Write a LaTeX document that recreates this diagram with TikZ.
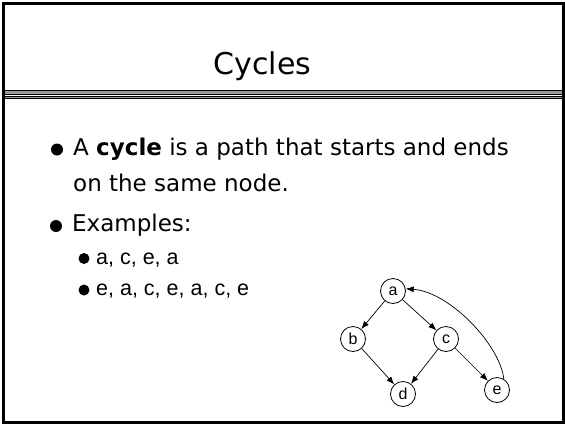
\documentclass[tikz,border=0pt]{standalone}
\usepackage{fontspec}
\setmainfont{DejaVu Sans}
\newfontfamily\arialf{Liberation Sans}
\usetikzlibrary{arrows.meta}
\begin{document}
\begin{tikzpicture}[x=1pt,y=-1pt,
  vtx/.style={circle,draw,line width=0.8pt,minimum size=25pt,inner sep=0pt,font=\arialf\fontsize{16}{16}\selectfont},
  edge/.style={-{Latex[length=8pt,width=6pt]},line width=0.7pt},
  band/.style={fill=black!40,draw=black,line width=0.6pt},
  txt/.style={anchor=base west,inner sep=0pt,font=\fontsize{23}{23}\selectfont},
  subtxt/.style={anchor=base west,inner sep=0pt,font=\arialf\fontsize{21.5}{21.5}\selectfont},
  dot/.style={circle,fill=black,inner sep=0pt,minimum size=#1},
  ]
\useasboundingbox (0,0) rectangle (565,424);
\draw[band] (3,90) rectangle (563,94.3);
\draw[band] (3,96.3) rectangle (563,98.3);
\draw[line width=2.7pt] (3.3,3.3) rectangle (563.6,422.6);
\node[anchor=base,inner sep=0pt,font=\fontsize{30}{30}\selectfont] (title) at (262.5,74) {Cycles};
% bullets
\node[dot=12pt] (d1) at (57,149.5) {};
\node[txt] (t1) at (73,155) {A \textbf{cycle} is a path that starts and ends};
\node[txt] (t2) at (73,191) {on the same node.};
\node[dot=12pt] (d2) at (56,226) {};
\node[txt] (t3) at (72,231.7) {Examples:};
\node[dot=11pt] (d3) at (84,258.5) {};
\node[subtxt] (t4) at (96,264.3) {a, c, e, a};
\node[dot=11pt] (d4) at (84,290) {};
\node[subtxt] (t5) at (96,295.7) {e, a, c, e, a, c, e};
% graph
\node[vtx] (a) at (393,291) {a};
\node[vtx] (b) at (353,339) {b};
\node[vtx] (c) at (446,339) {c};
\node[vtx] (d) at (403,394) {d};
\node[vtx] (e) at (497,390) {e};
\draw[edge] (a) -- (b);
\draw[edge] (a) -- (c);
\draw[edge] (b) -- (d);
\draw[edge] (c) -- (d);
\draw[edge] (c) -- (e);
\draw[edge] (e.58) .. controls (500,345) and (450,292) .. (a.10);
\end{tikzpicture}
\end{document}
